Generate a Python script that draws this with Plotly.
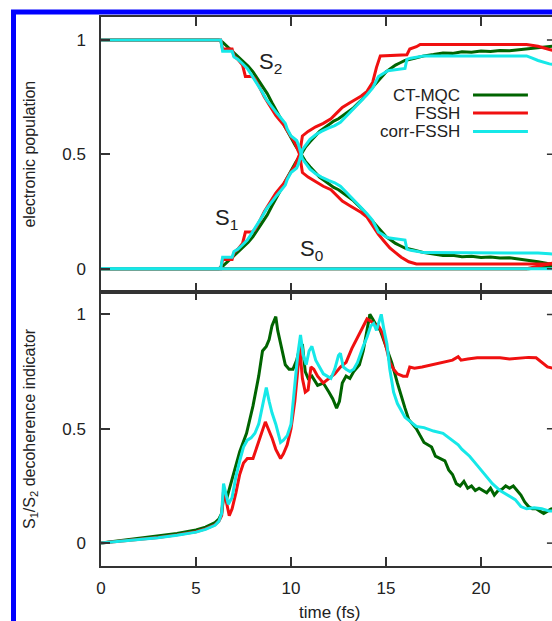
import plotly.graph_objects as go

# ---------------- top panel: electronic populations ----------------
# CT-MQC
t_ct = [0, 6.2, 6.4, 6.6, 6.8, 7.0, 7.25, 7.5, 7.75, 8.0, 8.25, 8.5, 8.75, 9.0, 9.25, 9.5, 9.75, 10.0, 10.25, 10.5,
        10.75, 11.0, 11.25, 11.5, 11.75, 12.0, 12.25, 12.5, 12.75, 13.0, 13.25, 13.5, 13.75, 14.0, 14.25, 14.5, 14.75, 15.0, 15.25, 15.5,
        15.75, 16.0, 16.5, 17.0, 17.5, 18.0, 18.5, 19.0, 19.5, 20.0, 20.5, 21.0, 21.5, 22.0, 22.5, 23.0, 23.5, 24.0]
s2_ct = [1, 1, 0.99, 0.975, 0.96, 0.945, 0.925, 0.905, 0.885, 0.86, 0.83, 0.80, 0.765, 0.725, 0.69, 0.65, 0.61, 0.57, 0.535, 0.505,
         0.47, 0.445, 0.42, 0.40, 0.385, 0.37, 0.355, 0.345, 0.33, 0.315, 0.30, 0.28, 0.26, 0.235, 0.21, 0.185, 0.16, 0.14, 0.125, 0.11,
         0.10, 0.09, 0.08, 0.07, 0.064, 0.057, 0.058, 0.052, 0.054, 0.049, 0.051, 0.046, 0.047, 0.042, 0.038, 0.03, 0.022, 0.015]
s1_ct = [0, 0, 0.01, 0.025, 0.04, 0.055, 0.075, 0.095, 0.115, 0.14, 0.17, 0.20, 0.235, 0.275, 0.31, 0.35, 0.39, 0.43, 0.465, 0.495,
         0.53, 0.555, 0.58, 0.60, 0.615, 0.63, 0.645, 0.655, 0.67, 0.685, 0.70, 0.72, 0.74, 0.765, 0.79, 0.815, 0.84, 0.86, 0.875, 0.89,
         0.90, 0.91, 0.92, 0.93, 0.936, 0.943, 0.941, 0.948, 0.946, 0.951, 0.949, 0.954, 0.952, 0.957, 0.961, 0.966, 0.972, 0.975]
t_ct_s0 = [0, 22.5, 23.0, 23.5, 24.0]
s0_ct = [0, 0, 0.004, 0.008, 0.012]

# FSSH
t_fs_s1 = [0, 6.3, 6.4, 6.9, 7.0, 7.2, 7.45, 7.6, 7.95, 8.1, 8.3, 8.6, 8.9, 9.2, 9.4, 9.6, 9.9, 10.2, 10.45, 10.6,
           10.9, 11.3, 11.7, 12.1, 12.4, 12.7, 13.1, 13.4, 13.7, 14.0, 14.3, 14.5, 14.7, 16.1, 16.25, 16.6, 16.8, 22.4, 23.0, 23.6, 24.0]
s1_fs = [0, 0, 0.04, 0.04, 0.07, 0.085, 0.11, 0.16, 0.16, 0.17, 0.2, 0.25, 0.29, 0.33, 0.35, 0.37, 0.41, 0.45, 0.5, 0.58,
         0.60, 0.62, 0.635, 0.655, 0.68, 0.705, 0.725, 0.74, 0.755, 0.775, 0.815, 0.88, 0.93, 0.935, 0.96, 0.97, 0.98, 0.98, 0.972, 0.958, 0.95]
t_fs_s2 = [0, 6.3, 6.4, 6.9, 7.0, 7.2, 7.45, 7.6, 7.95, 8.1, 8.3, 8.6, 8.9, 9.2, 9.4, 9.6, 9.9, 10.2, 10.45, 10.6,
           10.9, 11.3, 11.7, 12.1, 12.4, 12.7, 13.1, 13.4, 13.7, 14.0, 14.3, 14.6, 14.9, 15.2, 15.5, 15.8, 16.2, 16.6, 24.0]
s2_fs = [1, 1, 0.96, 0.96, 0.93, 0.915, 0.89, 0.84, 0.84, 0.83, 0.8, 0.75, 0.71, 0.67, 0.65, 0.63, 0.59, 0.55, 0.5, 0.42,
         0.40, 0.38, 0.36, 0.345, 0.32, 0.295, 0.275, 0.26, 0.245, 0.225, 0.185, 0.15, 0.12, 0.09, 0.07, 0.05, 0.03, 0.02, 0.02]
t_fs_s0 = [0, 22.4, 23.0, 23.6, 24.0]
s0_fs = [0, 0, 0.01, 0.02, 0.028]

# corr-FSSH
t_cf = [0, 6.3, 6.4, 6.9, 7.0, 7.2, 7.4, 7.7, 7.9, 8.1, 8.3, 8.5, 8.7, 9.0, 9.25, 9.5, 9.7, 9.8, 10.0, 10.3,
        10.4, 10.6, 10.8, 11.0, 11.3, 11.6, 12.0, 12.3, 12.6, 12.9, 13.2, 13.5, 13.8, 14.0, 14.3, 14.6, 15.1, 16.0, 16.1, 16.3,
        17.0, 22.4, 22.7, 23.0, 23.6, 24.0]
s1_cf = [0, 0, 0.05, 0.05, 0.075, 0.085, 0.10, 0.125, 0.15, 0.175, 0.2, 0.23, 0.26, 0.295, 0.32, 0.345, 0.365, 0.39, 0.42, 0.44,
         0.46, 0.52, 0.545, 0.565, 0.585, 0.60, 0.615, 0.625, 0.64, 0.665, 0.69, 0.715, 0.74, 0.76, 0.79, 0.84, 0.865, 0.875, 0.915, 0.92,
         0.93, 0.93, 0.92, 0.91, 0.895, 0.89]
s2_cf = [1, 1, 0.95, 0.95, 0.925, 0.915, 0.90, 0.875, 0.85, 0.825, 0.8, 0.77, 0.74, 0.705, 0.68, 0.655, 0.635, 0.61, 0.58, 0.56,
         0.54, 0.48, 0.455, 0.435, 0.415, 0.40, 0.385, 0.375, 0.36, 0.335, 0.31, 0.285, 0.26, 0.24, 0.21, 0.16, 0.135, 0.125, 0.085, 0.08,
         0.07, 0.07, 0.07, 0.068, 0.065, 0.062]
t_cf_s0 = [0, 24.0]
s0_cf = [0, 0]

# ---------------- bottom panel: S1/S2 decoherence indicator ----------------
t_ct_d = [0, 1, 2, 3, 4, 5, 5.5, 6.0, 6.2, 6.35, 6.45, 6.6, 6.8, 7.0, 7.3, 7.66, 8.0, 8.3, 8.5, 8.7,
          8.85, 9.0, 9.2, 9.3, 9.5, 9.7, 9.9, 10.1, 10.3, 10.45, 10.6, 10.75, 10.9, 11.1, 11.4, 11.7, 12.0, 12.2, 12.4, 12.55,
          12.7, 12.9, 13.1, 13.3, 13.6, 13.8, 14.0, 14.15, 14.3, 14.5, 14.7, 14.9, 15.1, 15.3, 15.6, 15.8, 16.0, 16.2, 16.4, 16.6,
          16.8, 17.0, 17.2, 17.4, 17.6, 17.9, 18.1, 18.3, 18.5, 18.7, 18.9, 19.1, 19.3, 19.5, 19.7, 19.9, 20.1, 20.3, 20.5, 20.7,
          20.9, 21.1, 21.3, 21.5, 21.7, 21.9, 22.1, 22.3, 22.5, 22.7, 22.9, 23.1, 23.3, 23.5, 23.7, 24.0]
d_ct = [0, 0.01, 0.02, 0.03, 0.042, 0.058, 0.07, 0.09, 0.105, 0.13, 0.2, 0.19, 0.25, 0.32, 0.4, 0.48, 0.6, 0.73, 0.84, 0.86,
        0.89, 0.95, 0.99, 0.93, 0.86, 0.78, 0.76, 0.76, 0.8, 0.85, 0.87, 0.75, 0.72, 0.73, 0.69, 0.70, 0.66, 0.63, 0.59, 0.62,
        0.70, 0.73, 0.72, 0.75, 0.78, 0.84, 0.93, 1.0, 0.98, 0.95, 0.93, 0.88, 0.84, 0.79, 0.70, 0.64, 0.59, 0.54, 0.52, 0.50,
        0.47, 0.44, 0.43, 0.42, 0.38, 0.37, 0.36, 0.32, 0.30, 0.26, 0.25, 0.27, 0.24, 0.25, 0.23, 0.24, 0.23, 0.22, 0.24, 0.21,
        0.23, 0.235, 0.25, 0.24, 0.25, 0.23, 0.21, 0.18, 0.16, 0.15, 0.15, 0.14, 0.13, 0.14, 0.15, 0.14]

t_fs_d = [0, 1, 2, 3, 4, 5, 5.5, 6.0, 6.2, 6.35, 6.45, 6.55, 6.75, 6.9, 7.1, 7.3, 7.5, 7.7, 8.0, 8.2,
          8.4, 8.65, 8.8, 9.0, 9.2, 9.45, 9.6, 9.8, 10.0, 10.2, 10.35, 10.45, 10.6, 10.75, 10.9, 11.05, 11.2, 11.4, 11.7, 12.0,
          12.3, 12.6, 12.9, 13.2, 13.5, 13.8, 14.0, 14.2, 14.4, 14.6, 14.8, 15.0, 15.2, 15.4, 15.6, 15.9, 16.1, 16.25, 16.5, 16.9,
          17.5, 18.0, 18.5, 18.8, 18.95, 19.3, 19.8, 20.5, 21.0, 21.5, 22.0, 22.5, 22.9, 23.2, 23.5, 24.0]
d_fs = [0, 0.008, 0.016, 0.025, 0.036, 0.05, 0.062, 0.08, 0.095, 0.12, 0.23, 0.2, 0.12, 0.15, 0.22, 0.3, 0.35, 0.37, 0.37, 0.42,
        0.47, 0.53, 0.5, 0.46, 0.41, 0.37, 0.39, 0.43, 0.5, 0.62, 0.75, 0.86, 0.72, 0.66, 0.67, 0.77, 0.76, 0.73, 0.70, 0.72,
        0.74, 0.77, 0.79, 0.85, 0.90, 0.95, 0.98, 0.97, 0.955, 0.95, 0.92, 0.86, 0.79, 0.76, 0.74, 0.73, 0.73, 0.77, 0.765, 0.77,
        0.78, 0.79, 0.80, 0.815, 0.80, 0.805, 0.81, 0.81, 0.81, 0.805, 0.81, 0.812, 0.81, 0.79, 0.77, 0.76]

t_cf_d = [0, 1, 2, 3, 4, 5, 5.5, 6.0, 6.2, 6.35, 6.45, 6.55, 6.7, 6.9, 7.1, 7.3, 7.5, 7.7, 7.9, 8.1,
          8.3, 8.5, 8.7, 8.85, 9.0, 9.2, 9.45, 9.6, 9.8, 10.0, 10.2, 10.35, 10.5, 10.65, 10.8, 10.95, 11.1, 11.3, 11.5, 11.7,
          11.9, 12.1, 12.3, 12.5, 12.6, 12.75, 12.9, 13.1, 13.3, 13.5, 13.8, 14.0, 14.2, 14.35, 14.5, 14.65, 14.75, 14.9, 15.05, 15.2,
          15.4, 15.6, 15.8, 16.0, 16.3, 16.6, 17.0, 17.5, 18.0, 18.5, 18.8, 19.0, 19.4, 19.8, 20.2, 20.6, 21.0, 21.4, 21.8, 22.1,
          22.4, 22.8, 23.2, 23.6, 24.0]
d_cf = [0, 0.007, 0.015, 0.024, 0.034, 0.048, 0.06, 0.078, 0.095, 0.13, 0.26, 0.22, 0.17, 0.2, 0.29, 0.36, 0.42, 0.45, 0.46, 0.48,
        0.52, 0.6, 0.68, 0.62, 0.57, 0.52, 0.44, 0.45, 0.47, 0.52, 0.7, 0.82, 0.91, 0.82, 0.78, 0.84, 0.86, 0.8, 0.77, 0.74,
        0.73, 0.72, 0.76, 0.82, 0.83, 0.77, 0.76, 0.75, 0.76, 0.79, 0.86, 0.9, 0.95, 0.96, 0.93, 0.97, 1.0, 0.93, 0.87, 0.76,
        0.66, 0.61, 0.58, 0.55, 0.53, 0.51, 0.505, 0.49, 0.48, 0.45, 0.43, 0.41, 0.38, 0.34, 0.3, 0.26, 0.23, 0.21, 0.19, 0.16,
        0.15, 0.155, 0.15, 0.14, 0.14]

x_ticks = [0, 5, 10, 15, 20]
y_ticks = [0, 0.5, 1]
y_ticklabels = ["0", "0.5", "1"]
method_names = ["CT-MQC", "FSSH", "corr-FSSH"]

# sanity checks
for a, b in [(t_ct, s2_ct), (t_ct, s1_ct), (t_fs_s1, s1_fs), (t_fs_s2, s2_fs), (t_cf, s1_cf), (t_cf, s2_cf),
             (t_ct_d, d_ct), (t_fs_d, d_fs), (t_cf_d, d_cf)]:
    assert len(a) == len(b), (len(a), len(b))

GREEN = "#006400"
RED = "#f01010"
CYAN = "#16e8e8"
AX = "#333333"
FONT = "Liberation Sans, Arial, Helvetica, sans-serif"
LW = 3

fig = go.Figure()

def add(x, y, color, axis):
    xa, ya = ("x", "y") if axis == 1 else ("x2", "y2")
    fig.add_trace(go.Scatter(x=x, y=y, mode="lines", line=dict(color=color, width=LW),
                             xaxis=xa, yaxis=ya, showlegend=False, hoverinfo="skip"))

# top panel (CT-MQC, FSSH, corr-FSSH order)
add(t_ct, s2_ct, GREEN, 1); add(t_ct, s1_ct, GREEN, 1); add(t_ct_s0, s0_ct, GREEN, 1)
add(t_fs_s2, s2_fs, RED, 1); add(t_fs_s1, s1_fs, RED, 1); add(t_fs_s0, s0_fs, RED, 1)
add(t_cf, s2_cf, CYAN, 1); add(t_cf, s1_cf, CYAN, 1); add(t_cf_s0, s0_cf, CYAN, 1)
# bottom panel
add(t_ct_d, d_ct, GREEN, 2)
add(t_fs_d, d_fs, RED, 2)
add(t_cf_d, d_cf, CYAN, 2)

XMAX = (552 - 101) / 19.0

axis_common = dict(showline=True, linecolor=AX, linewidth=1.5, ticks="inside",
                   ticklen=9, tickwidth=1.5, tickcolor=AX, showgrid=False, zeroline=False,
                   tickfont=dict(family=FONT, size=17, color="#222222"))

fig.update_layout(
    width=552, height=621,
    margin=dict(l=101, r=0, t=17, b=55),
    paper_bgcolor="white", plot_bgcolor="white",
    xaxis=dict(domain=[0, 1], anchor="y", range=[0, XMAX], tickvals=x_ticks, showticklabels=False,
               mirror="ticks", **axis_common),
    yaxis=dict(domain=[0.5, 1], anchor="x", range=[-0.1, 1.1], tickvals=y_ticks, ticktext=y_ticklabels,
               ticklabelstandoff=10, mirror=False, **axis_common),
    xaxis2=dict(domain=[0, 1], anchor="y2", range=[0, XMAX], tickvals=x_ticks, ticklabelstandoff=6,
                mirror="ticks", **axis_common),
    yaxis2=dict(domain=[0, 0.5], anchor="x2", range=[-0.1, 1.1], tickvals=y_ticks, ticktext=y_ticklabels,
                ticklabelstandoff=10, mirror=False, **axis_common),
)

tf = dict(family=FONT, color="#222222")
ann = []
# axis titles
ann.append(dict(text="electronic population", xref="paper", yref="paper", x=-0.1574, y=0.7495,
                textangle=-90, showarrow=False, xanchor="center", yanchor="middle", font=dict(size=16, **tf)))
ann.append(dict(text="S<sub>1</sub>/S<sub>2</sub> decoherence indicator", xref="paper", yref="paper", x=-0.1574, y=0.2495,
                textangle=-90, showarrow=False, xanchor="center", yanchor="middle", font=dict(size=16, **tf)))
ann.append(dict(text="time (fs)", xref="x2", yref="paper", x=12, y=-0.084, showarrow=False,
                xanchor="center", yanchor="middle", font=dict(size=17, **tf)))
# state labels
for txt, xx, yy in [("S<sub>2</sub>", 8.9, 0.90), ("S<sub>1</sub>", 6.6, 0.215), ("S<sub>0</sub>", 11.1, 0.083)]:
    ann.append(dict(text=txt, xref="x", yref="y", x=xx, y=yy, showarrow=False, xanchor="center",
                    yanchor="middle", font=dict(size=22, **tf)))
# legend (gnuplot-style: text then line sample)
leg_y = [0.759, 0.68, 0.60]
shapes = []
for name, col, yy in zip(method_names, [GREEN, RED, CYAN], leg_y):
    ann.append(dict(text=name, xref="x", yref="y", x=19.0, y=yy, showarrow=False, xanchor="right",
                    yanchor="middle", font=dict(size=17, **tf)))
    shapes.append(dict(type="line", xref="x", yref="y", x0=19.58, x1=22.47, y0=yy, y1=yy,
                       line=dict(color=col, width=LW)))
# inward ticks of the (cropped) right-hand axis
for xr, yr in [("x", "y"), ("x2", "y2")]:
    for yv in y_ticks:
        shapes.append(dict(type="line", xref=xr, yref=yr, x0=23.47, x1=XMAX, y0=yv, y1=yv,
                           line=dict(color=AX, width=1.5)))
# blue frame around the figure
shapes.append(dict(type="rect", xref="paper", yref="paper", x0=-0.194, x1=1.3, y0=-0.3, y1=1.0091,
                   line=dict(color="#0000ff", width=5), fillcolor="rgba(0,0,0,0)", layer="above"))

fig.update_layout(annotations=ann, shapes=shapes)
fig.write_html("out.html")
